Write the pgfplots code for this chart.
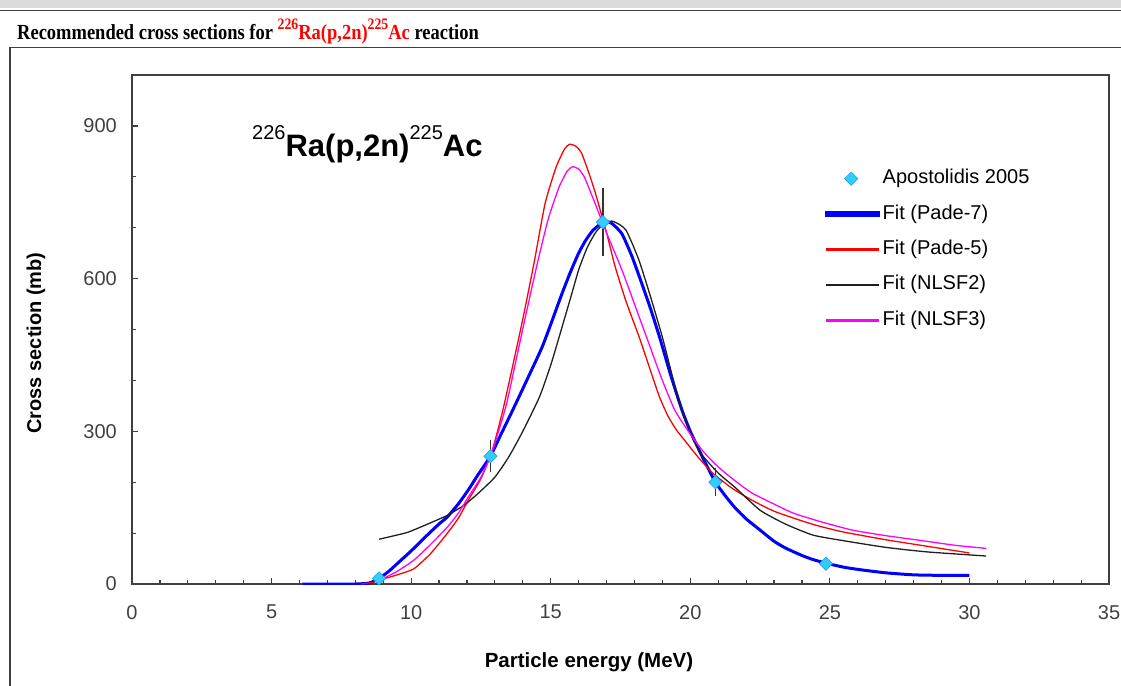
\documentclass[border=0pt]{standalone}
\usepackage{pgfplots}
\usepackage{pgfplotstable}
\pgfplotsset{compat=1.18}
\usepackage{fontspec}
\setmainfont{Liberation Sans}
\newfontfamily\titlefont[FakeStretch=0.86]{Liberation Serif}
\definecolor{axgray}{HTML}{404040}
\definecolor{diamondc}{HTML}{33CCFF}
\definecolor{diamondedge}{HTML}{1AA0E0}
\definecolor{cblue}{HTML}{0000FF}
\definecolor{cred}{HTML}{FF0000}
\definecolor{cblack}{HTML}{202020}
\definecolor{cmag}{HTML}{FF00FF}
\pgfplotsset{
  diamondleg/.style={legend image code/.code={\draw[##1] plot coordinates {(25bp,0bp)};}},
  legblue/.style={legend image code/.code={\fill[fill=cblue] (0bp,-1.5bp) rectangle (52bp,1.5bp);}},
  legred/.style={legend image code/.code={\fill[fill=cred] (0bp,-0.65bp) rectangle (52bp,0.65bp);}},
  legblack/.style={legend image code/.code={\fill[fill=cblack] (0bp,-0.65bp) rectangle (52bp,0.65bp);}},
  legmag/.style={legend image code/.code={\fill[fill=cmag] (0bp,-0.65bp) rectangle (52bp,0.65bp);}},
}

\pgfplotstableread{
x y e
8.85 11 5
12.84 251 31
16.87 711 67
20.9 200 28
24.86 40 5
}\exper

\pgfplotstableread{
x y
6.1 0
7.0 0
8.0 0
8.5 2
8.85 11
9.2 25
9.6 45
10.0 65
10.5 92
11.0 118
11.3 132
11.7 158
12.05 185
12.4 215
12.84 251
13.2 292
13.65 343
14.2 407
14.68 464
15.0 510
15.4 570
15.7 612
16.0 650
16.25 675
16.5 694
16.75 706
16.95 712
17.2 708
17.55 688
17.9 645
18.2 600
18.55 545
18.9 485
19.3 410
19.7 342
20.0 300
20.43 250
20.9 200
21.3 170
21.6 150
22.0 128
22.5 106
23.0 84
23.4 71
24.0 56
24.4 48
24.86 41
25.5 33
26.1 28
27.0 22
28.0 18
29.0 17
30.0 17
}\padeseven

\pgfplotstableread{
x y
8.2 0
8.6 3
9.0 10
9.5 18
10.1 30
10.7 60
11.3 100
11.7 130
12.05 165
12.5 207
12.9 262
13.3 345
13.96 510
14.4 630
14.8 748
15.2 820
15.5 855
15.68 864
15.9 860
16.1 847
16.35 810
16.6 768
17.0 690
17.3 625
17.7 555
18.17 485
18.6 415
18.9 367
19.2 330
19.5 303
19.8 282
20.3 248
20.8 218
21.5 188
22.2 165
23.0 143
24.0 124
24.6 114
25.5 102
27.0 87
28.5 74
30.0 61
}\padefive

\pgfplotstableread{
x y
8.85 88
9.4 95
9.9 102
10.6 118
11.3 135
11.9 155
12.4 178
13.0 210
13.5 250
14.0 300
14.6 368
15.0 430
15.3 485
15.7 560
16.0 617
16.3 660
16.6 690
16.9 708
17.2 713
17.5 705
17.7 695
17.95 665
18.2 630
18.6 560
19.0 485
19.35 410
19.7 340
20.05 290
20.4 255
21.0 218
21.6 190
22.5 145
23.4 118
24.4 96
25.5 85
27.0 72
28.5 63
30.6 55
}\nlsftwo

\pgfplotstableread{
x y
8.9 8
9.5 25
10.1 47
10.7 78
11.3 112
11.7 140
12.05 171
12.5 210
12.9 260
13.4 350
13.7 425
14.07 519
14.5 625
14.9 715
15.3 780
15.6 812
15.8 820
16.0 815
16.2 800
16.5 760
17.0 690
17.55 617
18.0 550
18.5 475
19.0 400
19.46 340
20.07 289
20.5 258
21.0 230
21.6 203
22.2 179
23.0 157
23.7 139
24.7 122
25.8 106
27.0 95
28.2 86
29.5 76
30.6 70
}\nlsfthree

\begin{document}
\begin{tikzpicture}[x=1bp,y=1bp]
\path[use as bounding box] (0,0) rectangle (1121,-686);
\fill[gray!28] (0,0) rectangle (1121,-8);
\draw[line width=1.6bp, axgray] (0,-10.5) -- (1121,-10.5);
\draw[line width=1.8bp, axgray] (10,-47.5) -- (1121,-47.5);
\draw[line width=2bp, axgray] (10,-47.5) -- (10,-690);
\node[anchor=base west, inner sep=0pt] at (17,-39.5) {\titlefont\bfseries\fontsize{21.5bp}{21.5bp}\selectfont Recommended cross sections for {\color{cred}\raisebox{10bp}{\fontsize{16bp}{16bp}\selectfont 226}Ra(p,2n)\raisebox{10bp}{\fontsize{16bp}{16bp}\selectfont 225}Ac} reaction};
\node[anchor=base west, inner sep=0pt] at (252,-157) {\raisebox{17bp}{\fontsize{20bp}{20bp}\selectfont 226}{\bfseries\fontsize{31bp}{31bp}\selectfont Ra(p,2n)}\raisebox{17bp}{\fontsize{20bp}{20bp}\selectfont 225}{\bfseries\fontsize{31bp}{31bp}\selectfont Ac}};
\node[rotate=90, inner sep=0pt] at (36,-343) {\bfseries\fontsize{20bp}{20bp}\selectfont Cross section (mb)};
\node[inner sep=0pt] at (589,-662) {\bfseries\fontsize{20.5bp}{20.5bp}\selectfont Particle energy (MeV)};
\begin{axis}[
  at={(132bp,-584bp)}, anchor=south west,
  scale only axis, width=977bp, height=509bp,
  xmin=0, xmax=35, ymin=0, ymax=1000,
  xtick={0,5,...,35}, ytick={0,300,600,900},
  minor xtick={1,2,3,4,6,7,8,9,11,12,13,14,16,17,18,19,21,22,23,24,26,27,28,29,31,32,33,34},
  minor ytick={100,200,400,500,700,800},
  xtick pos=bottom, ytick pos=left,
  tick align=inside, major tick length=6bp, minor tick length=4bp,
  axis line style={axgray, line width=1.6bp},
  every tick/.style={axgray, line width=1.2bp},
  /pgf/number format/assume math mode=true,
  ticklabel style={font=\fontsize{20bp}{20bp}\selectfont, text=axgray},
  yticklabel style={inner sep=0pt, xshift=-15bp},
  xticklabel style={inner sep=0pt, yshift=-21bp},
  legend style={draw=none, fill=none, at={(0.709,0.814)}, anchor=north west,
    inner sep=0pt, outer sep=0pt, row sep=17.4bp, column sep=3bp,
    nodes={inner sep=0pt, text height=14bp, text depth=4bp},
    font=\fontsize{20bp}{20bp}\selectfont},
  legend cell align=left,
  every axis plot/.append style={smooth, tension=0.35},
]
\addlegendimage{only marks, mark=square*, mark size=4.7bp, mark options={rotate=45, fill=diamondc, draw=diamondedge, line width=0.6bp}, diamondleg}
\addlegendentry{Apostolidis 2005}
\addplot[draw=cblue, line width=3bp, legblue] table[x=x,y=y] {\padeseven};
\addlegendentry{Fit (Pade-7)}
\addplot[draw=cred, line width=1.3bp, legred] table[x=x,y=y] {\padefive};
\addlegendentry{Fit (Pade-5)}
\addplot[draw=cblack, line width=1.3bp, legblack] table[x=x,y=y] {\nlsftwo};
\addlegendentry{Fit (NLSF2)}
\addplot[draw=cmag, line width=1.3bp, legmag] table[x=x,y=y] {\nlsfthree};
\addlegendentry{Fit (NLSF3)}
\addplot[forget plot, only marks, mark=square*, mark size=4.7bp,
  mark options={rotate=45, fill=diamondc, draw=diamondedge, line width=0.6bp},
  error bars/.cd, y dir=both, y explicit, error mark=none,
  error bar style={draw=black!80, line width=1.3bp}]
  table[x=x, y=y, y error=e] {\exper};
\end{axis}
\end{tikzpicture}
\end{document}
